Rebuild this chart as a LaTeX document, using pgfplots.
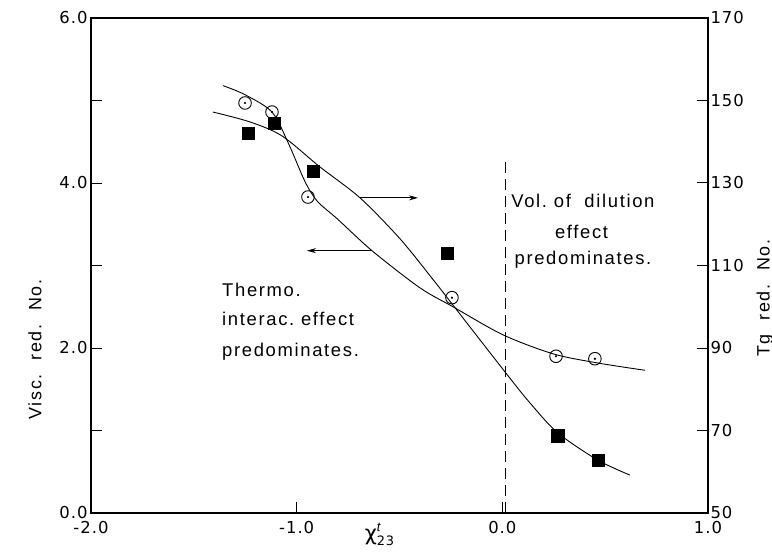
\documentclass[border=0pt]{standalone}
\usepackage{pgfplots}
\pgfplotsset{compat=1.18}
\usepackage{fontspec}
\setmainfont{Liberation Sans}
\newfontfamily\dejavu{DejaVu Sans}[LetterSpace=6]
\usetikzlibrary{arrows.meta}
\newcommand{\tl}[1]{{\dejavu\fontsize{16.5}{18}\selectfont #1}}
\newcommand{\annot}{\fontsize{18.5}{21}\selectfont\addfontfeatures{LetterSpace=9}}
\newcommand{\axlab}{\fontsize{18}{20}\selectfont\addfontfeatures{LetterSpace=10}}
\begin{document}
\begin{tikzpicture}
\begin{axis}[
  at={(0,0)}, anchor=south west,
  width=617bp, height=495bp, scale only axis,
  xmin=-2, xmax=1, ymin=0, ymax=6,
  axis line style={line width=1.3pt},
  xtick={-2,-1,0,1}, xticklabels={\tl{-2.0},\tl{-1.0},\tl{0.0},\tl{1.0}},
  ytick={0,1,2,3,4,5,6}, yticklabels={\tl{0.0},,\tl{2.0},,\tl{4.0},,\tl{6.0}},
  tick align=inside, major tick length=11bp,
  tick style={line width=1pt, black},
  xtick pos=bottom, ytick pos=left,
  yticklabel style={xshift=0bp},
  xticklabel style={yshift=-5bp},
  every axis y label/.style={at={(rel axis cs:0,0.33)}, rotate=90, anchor=center, yshift=56bp},
  ylabel={\axlab Visc.\ \ red.\ \ No.},
  every axis x label/.style={at={(rel axis cs:0.468,0)}, anchor=center, yshift=-21bp},
  xlabel={$\hbox{\dejavu\fontsize{21}{22}\selectfont χ}^{\hbox{\fontsize{13}{13}\selectfont\itshape t}}_{\hbox{\dejavu\fontsize{13}{13}\selectfont 23}}$},
  clip=false,
]
% Visc. reduction curve (left axis)
\addplot[black, line width=0.9pt, smooth, tension=0.5] coordinates {
 (-1.358,5.18) (-1.251,5.07) (-1.120,4.86) (-1.040,4.48)
 (-0.960,4.02) (-0.900,3.78) (-0.800,3.56)
 (-0.634,3.18) (-0.401,2.73) (-0.240,2.50) (0.003,2.16) (0.246,1.93)
 (0.460,1.82) (0.693,1.73)
};
% Visc. data (open circles with a dot)
\addplot[only marks, mark=o, mark size=6.3bp, mark options={line width=0.9pt, fill=white, draw=black}] coordinates {
 (-1.251,4.97) (-1.120,4.86) (-0.945,3.83) (-0.245,2.61) (0.261,1.90) (0.450,1.87)
};
\addplot[only marks, mark=*, mark size=0.9bp, black] coordinates {
 (-1.251,4.97) (-1.120,4.86) (-0.945,3.83) (-0.245,2.61) (0.261,1.90) (0.450,1.87)
};
% dashed boundary
\draw[black, line width=1pt, dash pattern=on 11bp off 6bp] (axis cs:0.013,0) -- (axis cs:0.013,4.28);
% arrows
\draw[black, line width=0.8pt, -{Stealth[length=9bp,width=5bp]}] (axis cs:-0.692,3.82) -- (axis cs:-0.41,3.82);
\draw[black, line width=0.8pt, -{Stealth[length=9bp,width=5bp]}] (axis cs:-0.634,3.18) -- (axis cs:-0.95,3.18);
% annotations
\node[anchor=base west, inner sep=0pt, font=\annot] at (axis cs:-1.363,2.63) {Thermo.};
\node[anchor=base west, inner sep=0pt, font=\annot] at (axis cs:-1.363,2.27) {interac.\ effect};
\node[anchor=base west, inner sep=0pt, font=\annot] at (axis cs:-1.363,1.90) {predominates.};
\node[anchor=base, inner sep=0pt, font=\annot] at (axis cs:0.392,3.70) {Vol.\ of\ \ dilution};
\node[anchor=base, inner sep=0pt, font=\annot] at (axis cs:0.385,3.33) {effect};
\node[anchor=base, inner sep=0pt, font=\annot] at (axis cs:0.392,3.01) {predominates.};
\end{axis}
\begin{axis}[
  at={(0,0)}, anchor=south west,
  width=617bp, height=495bp, scale only axis,
  xmin=-2, xmax=1, ymin=50, ymax=170,
  axis x line=none, axis y line*=right,
  axis line style={line width=1.3pt},
  ytick={50,70,90,110,130,150,170},
  yticklabels={\tl{50},\tl{70},\tl{90},\tl{110},\tl{130},\tl{150},\tl{170}},
  tick align=inside, major tick length=11bp,
  tick style={line width=1pt, black},
  yticklabel style={xshift=-1bp},
  every axis y label/.style={at={(rel axis cs:1,0.434)}, rotate=90, anchor=center, yshift=-57bp},
  ylabel={\axlab Tg\ \ red.\ \ No.},
  clip=false,
]
% Tg reduction curve (right axis)
\addplot[black, line width=0.9pt, smooth, tension=0.5] coordinates {
 (-1.407,147.2) (-1.227,144.8) (-1.071,141.4) (-0.887,133.9)
 (-0.692,126.4) (-0.498,116.5) (-0.337,106.6) (-0.240,100.4)
 (0.013,84.2) (0.134,76.7) (0.270,69.4) (0.465,62.8) (0.620,59.2)
};
% Tg data (filled squares)
\addplot[only marks, mark=square*, mark size=6.2bp, black] coordinates {
 (-1.237,142.1) (-1.110,144.5) (-0.921,132.9) (-0.269,113.0) (0.270,68.7) (0.465,62.8)
};
\end{axis}
\pgfresetboundingbox
\path[use as bounding box] (-91bp,-39bp) rectangle (681bp,513bp);
\end{tikzpicture}
\end{document}
